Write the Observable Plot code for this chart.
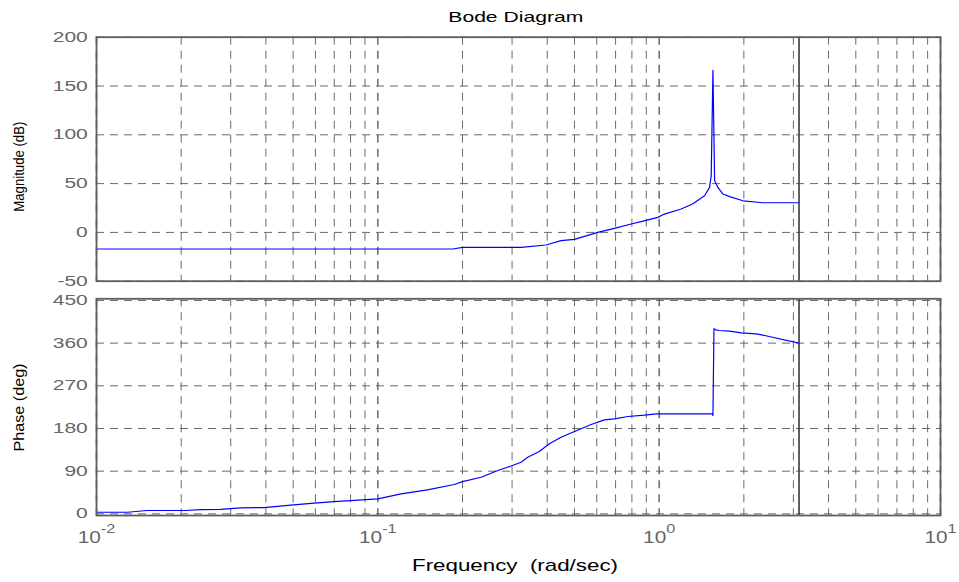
<!DOCTYPE html>
<html><head><meta charset="utf-8">
<script src="https://cdn.jsdelivr.net/npm/d3@7"></script>
<script src="https://cdn.jsdelivr.net/npm/@observablehq/plot@0.6"></script>
<style>
html,body{margin:0;padding:0;background:#fff;}
#chart{position:relative;width:959px;height:582px;overflow:hidden;font-family:'Liberation Sans',Arial,sans-serif;}
#chart svg{position:absolute;left:0;}
</style></head><body><div id="chart"></div>
<script>
// ---- texts ----
const titleText = "Bode Diagram";
const xLabelText = "Frequency  (rad/sec)";
const magLabelText = "Magnitude (dB)";
const phaseLabelText = "Phase (deg)";

// ---- magnitude series ----
const magFreq = [0.01, 0.185, 0.2, 0.233, 0.323, 0.396, 0.448, 0.5, 0.605, 0.693, 0.795, 0.863, 0.989, 1.044, 1.197, 1.318, 1.45, 1.51, 1.531, 1.553, 1.574, 1.618, 1.685, 1.779, 1.986, 2.339, 3.1416];
const magDb   = [-17, -17, -15.4, -15.4, -15.4, -12.9, -8.5, -7.2, 0, 4.1, 8.6, 11, 15.4, 18.8, 24, 29.4, 37.6, 46.1, 58, 166, 53, 46.1, 39.3, 36.6, 32.4, 30.4, 30.4];

// ---- phase series ----
const phaseFreq = [0.01, 0.0129, 0.0151, 0.0207, 0.0234, 0.0276, 0.0325, 0.0394, 0.049, 0.0594, 0.07, 0.08, 0.1, 0.121, 0.15, 0.187, 0.2, 0.233, 0.267, 0.296, 0.323, 0.341, 0.375, 0.407, 0.448, 0.493, 0.573, 0.639, 0.693, 0.774, 0.887, 0.976, 1.545, 1.553, 1.566, 1.59, 1.631, 1.779, 1.958, 2.213, 2.437, 3.1416];
const phaseDeg  = [3.4, 3.4, 7, 7, 9, 9.6, 12.6, 13.3, 18.2, 22.4, 25.9, 28, 31.6, 42.2, 50.6, 61.8, 68, 77.2, 91.4, 100.4, 108.9, 119.4, 131.4, 147.7, 161.6, 172.2, 188.4, 198.3, 200.4, 205.3, 208, 211, 211, 207.5, 390.5, 388, 386.7, 385.5, 381.8, 379.7, 374.6, 360];

// ---- ticks / grid ----
const xTicks = [0.01, 0.1, 1, 10];
const xMinorGrid = [0.02, 0.03, 0.04, 0.05, 0.06, 0.07, 0.08, 0.09, 0.2, 0.3, 0.4, 0.5, 0.6, 0.7, 0.8, 0.9, 2, 3, 4, 5, 6, 7, 8, 9];
const magTicks = [-50, 0, 50, 100, 150, 200];
const phaseTicks = [0, 90, 180, 270, 360, 450];
const markerFreq = [3.1416];

const magData = magFreq.map((f, i) => ({f, v: magDb[i]}));
const phaseData = phaseFreq.map((f, i) => ({f, v: phaseDeg[i]}));

const W = 959;
const gridColor = "#6a6a6a";
const dash = "8,6";
const baseStyle = {fontFamily: "'Liberation Sans', Arial, sans-serif", fontSize: "14.5px", color: "#666666", background: "white", overflow: "visible"};

function gridMarks(yTicks) {
  return [
    Plot.ruleX(xMinorGrid, {stroke: gridColor, strokeWidth: 1, strokeDasharray: dash}),
    Plot.ruleX(xTicks, {stroke: gridColor, strokeWidth: 1.5, strokeDasharray: dash}),
    Plot.ruleY(yTicks, {stroke: gridColor, strokeWidth: 1, strokeDasharray: dash})
  ];
}

const topPlot = Plot.plot({
  width: W, height: 290,
  marginLeft: 96, marginRight: 19, marginTop: 36.7, marginBottom: 9.3,
  style: baseStyle,
  x: {type: "log", domain: [0.01, 10], axis: null},
  y: {domain: [-50, 200], ticks: magTicks, tickSize: 0, tickPadding: 8.7, tickFormat: d => String(d), label: null},
  marks: [
    ...gridMarks(magTicks),
    Plot.line(magData, {x: "f", y: "v", stroke: "#0000ff", strokeWidth: 1.2}),
    Plot.ruleX(markerFreq, {stroke: "#3a3a3a", strokeWidth: 1.6}),
    Plot.frame({stroke: "#5e5e5e", strokeWidth: 1.8})
  ]
});

const bottomPlot = Plot.plot({
  width: W, height: 292,
  marginLeft: 96, marginRight: 19, marginTop: 8.3, marginBottom: 67,
  style: baseStyle,
  x: {type: "log", domain: [0.01, 10], ticks: xTicks, tickSize: 0, tickPadding: 16.5,
      tickFormat: d => "10^" + Math.round(Math.log10(d)), label: null},
  y: {domain: [-3.5, 453.5], ticks: phaseTicks, tickSize: 0, tickPadding: 8.7, tickFormat: d => String(d), label: null},
  marks: [
    ...gridMarks(phaseTicks),
    Plot.line(phaseData, {x: "f", y: "v", stroke: "#0000ff", strokeWidth: 1.2}),
    Plot.ruleX(markerFreq, {stroke: "#3a3a3a", strokeWidth: 1.6}),
    Plot.frame({stroke: "#5e5e5e", strokeWidth: 1.8})
  ]
});

const chart = document.getElementById("chart");
topPlot.style.top = "0px";
bottomPlot.style.top = "290px";
chart.appendChild(topPlot);
chart.appendChild(bottomPlot);

function stretch(t, k) {
  const tr = t.getAttribute("transform");
  if (tr) t.setAttribute("transform", tr + ` scale(${k},1)`);
  else {
    const x = +t.getAttribute("x") || 0;
    t.setAttribute("x", 0);
    t.setAttribute("transform", `translate(${x},0) scale(${k},1)`);
  }
}

[topPlot, bottomPlot].forEach(svg => {
  svg.querySelectorAll('[aria-label^="y-axis"] text').forEach(t => stretch(t, 1.45));
});

const NS = "http://www.w3.org/2000/svg";
bottomPlot.querySelectorAll('[aria-label^="x-axis"] text').forEach(t => {
  const s = t.textContent;
  if (s.indexOf("^") < 0) return;
  const [b, e] = s.split("^");
  t.textContent = "";
  t.style.fontSize = "16px";
  const t1 = document.createElementNS(NS, "tspan");
  t1.textContent = b;
  const t2 = document.createElementNS(NS, "tspan");
  t2.textContent = e;
  t2.setAttribute("dy", "-10");
  t2.style.fontSize = "12.5px";
  t.appendChild(t1); t.appendChild(t2);
  stretch(t, 1.3);
});

// overlay with title and axis labels
const ov = d3.create("svg").attr("width", W).attr("height", 582)
  .style("top", "0px").style("pointer-events", "none")
  .style("font-family", "'Liberation Sans', Arial, sans-serif");
ov.append("text").attr("x", 515.8).attr("y", 21.7).attr("text-anchor", "middle")
  .attr("font-size", 15).attr("textLength", 135).attr("lengthAdjust", "spacingAndGlyphs").text(titleText);
ov.append("text").attr("x", 515).attr("y", 571).attr("text-anchor", "middle").style("white-space", "pre")
  .attr("font-size", 17).attr("textLength", 206).attr("lengthAdjust", "spacingAndGlyphs").text(xLabelText);
ov.append("text").attr("transform", "translate(23.5,166.7) rotate(-90)").attr("text-anchor", "middle")
  .attr("font-size", 15.5).attr("textLength", 90).attr("lengthAdjust", "spacingAndGlyphs").text(magLabelText);
ov.append("text").attr("transform", "translate(24,407.5) rotate(-90)").attr("text-anchor", "middle")
  .attr("font-size", 15.5).attr("textLength", 88).attr("lengthAdjust", "spacingAndGlyphs").text(phaseLabelText);
chart.appendChild(ov.node());
</script></body></html>
